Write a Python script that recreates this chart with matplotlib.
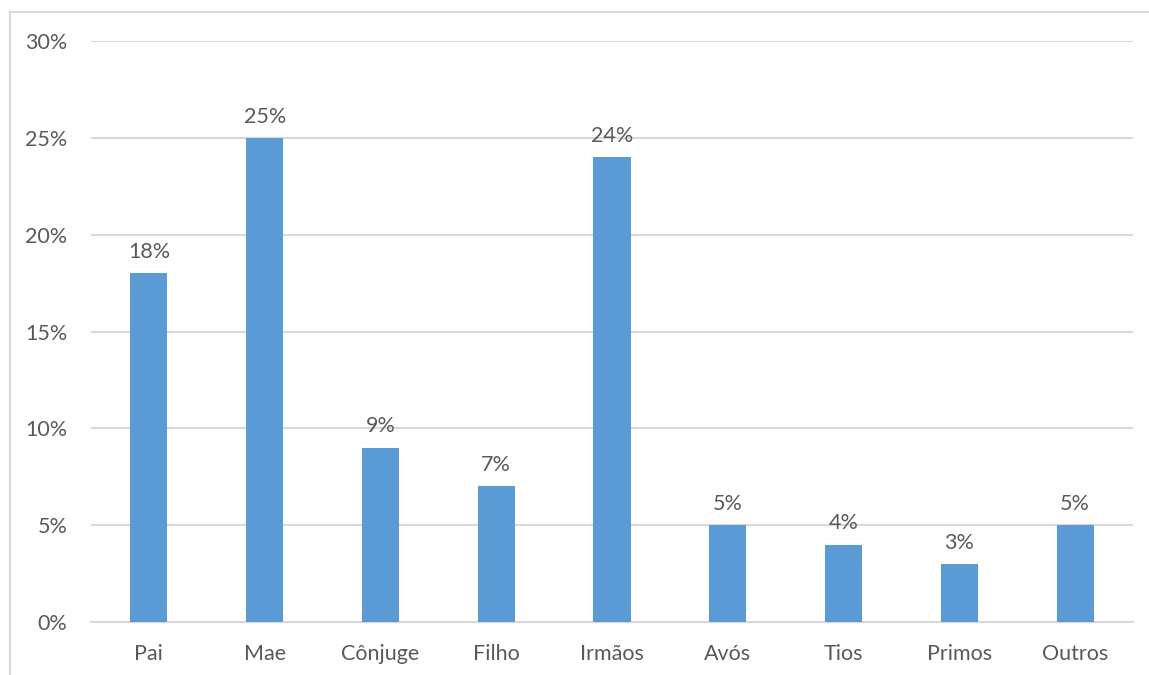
import matplotlib
matplotlib.use("Agg")
import matplotlib.pyplot as plt
from matplotlib.patches import Rectangle
from matplotlib.ticker import PercentFormatter

categories = ["Pai", "Mae", "Cônjuge", "Filho", "Irmãos", "Avós", "Tios", "Primos", "Outros"]
values = [18, 25, 9, 7, 24, 5, 4, 3, 5]
y_ticks = [0, 5, 10, 15, 20, 25, 30]

plt.rcParams["font.family"] = ["Lato", "DejaVu Sans"]
text_color = "#595959"
grid_color = "#D9D9D9"
bar_color = "#5B9BD5"
font_size = 15.5

W, H = 1149, 675
fig = plt.figure(figsize=(W / 100, H / 100), dpi=100)
fig.patch.set_facecolor("white")

# outer chart border
fig.patches.append(Rectangle((9.5 / W, -0.1), 1.2, 1 - 11.5 / H + 0.1,
                             transform=fig.transFigure, fill=False,
                             edgecolor=grid_color, linewidth=1.5))

left, right, top, bottom = 91, 1133, 41, 622
ax = fig.add_axes([left / W, 1 - bottom / H, (right - left) / W, (bottom - top) / H])

x = range(len(categories))
ax.bar(x, values, width=0.32, color=bar_color, zorder=3)
for xi, v in zip(x, values):
    ax.annotate(f"{v}%", (xi, v), xytext=(0, 11), textcoords="offset points",
                ha="center", va="baseline", fontsize=font_size, color=text_color)

ax.set_xlim(-0.5, len(categories) - 0.5)
ax.set_ylim(0, 30)
ax.set_yticks(y_ticks)
ax.yaxis.set_major_formatter(PercentFormatter(decimals=0))
ax.set_xticks(list(x))
ax.set_xticklabels(categories)
ax.tick_params(axis="both", length=0, labelsize=font_size, labelcolor=text_color)
ax.tick_params(axis="y", pad=17)
ax.tick_params(axis="x", pad=16)
ax.grid(axis="y", color=grid_color, linewidth=1.5, zorder=0)
for s in ["top", "right", "left"]:
    ax.spines[s].set_visible(False)
ax.spines["bottom"].set_color(grid_color)
ax.spines["bottom"].set_linewidth(1.5)

fig.savefig("out.png", dpi=100)
